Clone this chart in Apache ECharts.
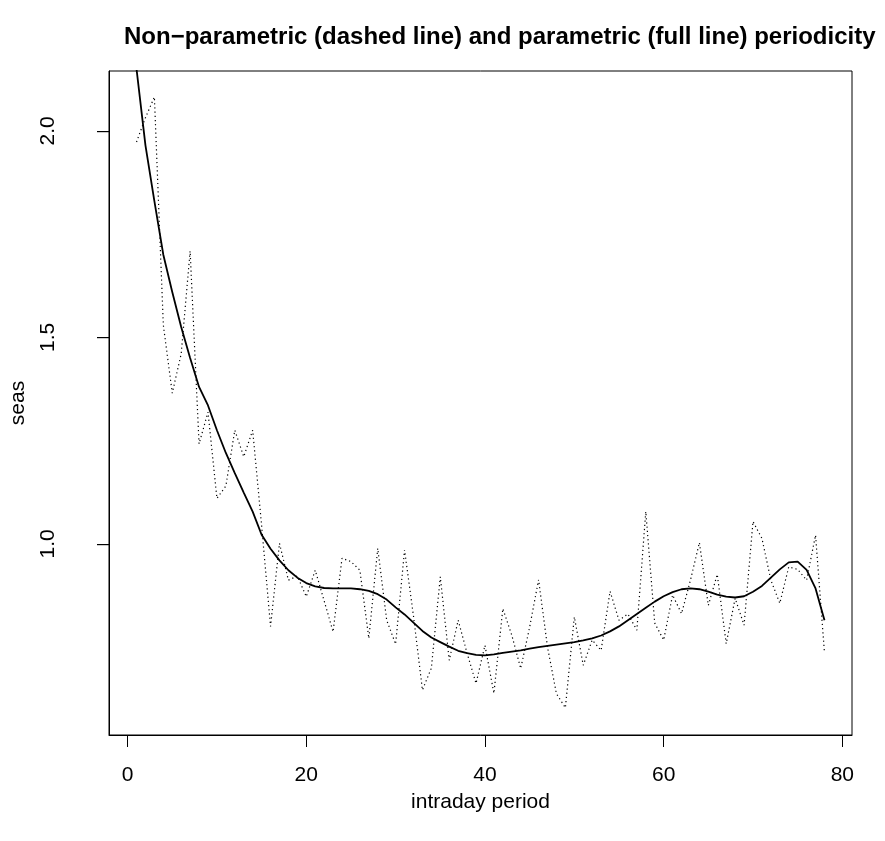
<!DOCTYPE html>
<html>
<head>
<meta charset="utf-8">
<script src="https://cdn.jsdelivr.net/npm/echarts@6/dist/echarts.min.js"></script>
<style>html,body{margin:0;padding:0;background:#fff;}#c{width:885px;height:841px;}</style>
</head>
<body>
<div id="c"></div>
<script>
const periods = [1,2,3,4,5,6,7,8,9,10,11,12,13,14,15,16,17,18,19,20,21,22,23,24,25,26,27,28,29,30,31,32,33,34,35,36,37,38,39,40,41,42,43,44,45,46,47,48,49,50,51,52,53,54,55,56,57,58,59,60,61,62,63,64,65,66,67,68,69,70,71,72,73,74,75,76,77,78];
const nonParametric = [1.973,2.032,2.082,1.53,1.365,1.46,1.709,1.242,1.319,1.11,1.14,1.275,1.211,1.275,1.045,0.80,1.001,0.912,0.922,0.872,0.936,0.862,0.787,0.965,0.957,0.936,0.771,0.989,0.815,0.757,0.985,0.825,0.646,0.699,0.92,0.718,0.815,0.735,0.662,0.754,0.638,0.843,0.779,0.698,0.798,0.913,0.75,0.637,0.603,0.823,0.706,0.767,0.742,0.885,0.815,0.83,0.791,1.078,0.808,0.767,0.876,0.831,0.912,1.003,0.851,0.926,0.758,0.868,0.803,1.054,1.013,0.912,0.856,0.944,0.938,0.912,1.021,0.736];
const parametric = [2.15,1.965,1.83,1.70,1.61,1.525,1.45,1.38,1.335,1.275,1.22,1.171,1.124,1.078,1.022,0.988,0.96,0.936,0.918,0.905,0.897,0.893,0.892,0.892,0.892,0.89,0.886,0.878,0.865,0.846,0.829,0.809,0.789,0.773,0.762,0.751,0.741,0.735,0.731,0.73,0.732,0.736,0.739,0.742,0.746,0.75,0.753,0.756,0.759,0.762,0.766,0.771,0.778,0.788,0.80,0.815,0.83,0.845,0.86,0.873,0.883,0.89,0.892,0.89,0.884,0.877,0.872,0.87,0.873,0.884,0.898,0.918,0.938,0.955,0.957,0.937,0.892,0.815];
const xTicks = [0,20,40,60,80];
const yTicks = [1.0,1.5,2.0];

// plot region (R-style, 4% extension of data range)
const X_MIN = -2.08, X_MAX = 81.08;
const Y_MIN = 0.537, Y_MAX = 2.145;
const TICK_LEN = 12;

const FONT = '"Liberation Sans", Arial, Helvetica, sans-serif';
const chart = echarts.init(document.getElementById('c'), null, {renderer:'canvas'});
chart.setOption({
  animation: false,
  backgroundColor: '#fff',
  title: {
    text: 'Non\u2212parametric (dashed line) and parametric (full line) periodicity',
    left: 119, top: 20,
    textStyle: {fontFamily: FONT, fontWeight: 'bold', fontSize: 24, color: '#000'}
  },
  grid: {left: 109, right: 33, top: 71, bottom: 106, show: true, borderColor: '#000', borderWidth: 1, backgroundColor: 'transparent'},
  xAxis: {
    type: 'value', min: X_MIN, max: X_MAX,
    name: 'intraday period', nameLocation: 'middle', nameGap: 57,
    nameTextStyle: {fontFamily: FONT, fontSize: 21, color: '#000'},
    axisLine: {show: true, onZero: false, lineStyle: {color: '#000', width: 1}},
    axisTick: {show: true, inside: false, length: TICK_LEN, customValues: xTicks, lineStyle: {color: '#000', width: 1}},
    axisLabel: {show: true, customValues: xTicks, margin: 30, fontFamily: FONT, fontSize: 21, color: '#000'},
    splitLine: {show: false}
  },
  yAxis: {
    type: 'value', min: Y_MIN, max: Y_MAX,
    name: 'seas', nameLocation: 'middle', nameGap: 80, nameRotate: 90,
    nameTextStyle: {fontFamily: FONT, fontSize: 21, color: '#000'},
    axisLine: {show: true, onZero: false, lineStyle: {color: '#000', width: 1}},
    axisTick: {show: true, inside: false, length: TICK_LEN, customValues: yTicks, lineStyle: {color: '#000', width: 1}},
    axisLabel: {show: true, customValues: yTicks, rotate: 90, margin: 50, fontFamily: FONT, fontSize: 21, color: '#000',
      formatter: v => v.toFixed(1)},
    splitLine: {show: false}
  },
  series: [
    {type: 'line', data: periods.map((p, i) => [p, nonParametric[i]]), showSymbol: false, symbol: 'none', clip: true,
     lineStyle: {color: '#000', width: 1.2, type: [1.2, 3]}},
    {type: 'line', data: periods.map((p, i) => [p, parametric[i]]), showSymbol: false, symbol: 'none', clip: true,
     lineStyle: {color: '#000', width: 1.8}}
  ]
});

// y-axis tick marks placed through the chart's own scale
const yTickMarks = yTicks.map(v => {
  const p = chart.convertToPixel({xAxisIndex: 0, yAxisIndex: 0}, [X_MIN, v]);
  return {type: 'rect', silent: true, z: 100,
    shape: {x: p[0] - TICK_LEN, y: Math.round(p[1]), width: TICK_LEN, height: 1.2},
    style: {fill: '#000'}};
});
chart.setOption({graphic: {elements: yTickMarks}});
</script>
</body>
</html>
